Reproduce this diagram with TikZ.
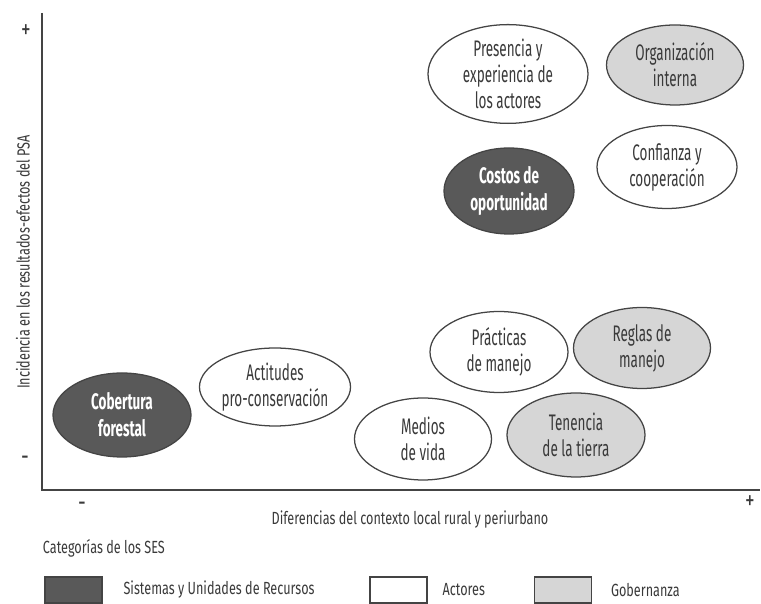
\documentclass[tikz,border=0pt]{standalone}
\usepackage{fontspec}
\setmainfont[FakeStretch=0.72]{Fira Sans}
\newfontfamily\sesfont[FakeStretch=0.6]{Fira Sans}
\usepackage{tikz}
\usetikzlibrary{shapes.geometric,positioning}
\definecolor{linegray}{HTML}{444444}
\definecolor{textgray}{HTML}{3A3A3A}
\definecolor{recfill}{HTML}{595959}
\definecolor{gobfill}{HTML}{D6D6D6}
\tikzset{ses/.style={ellipse, draw=linegray, line width=0.9pt, inner sep=0pt,
    align=center, font=\sesfont\fontsize{16}{18.5}\selectfont, text=textgray},
  rec/.style={ses, fill=recfill, text=white, font=\sesfont\fontsize{16}{19}\selectfont\bfseries},
  act/.style={ses, fill=white},
  gob/.style={ses, fill=gobfill},
  legbox/.style={draw=linegray, line width=0.9pt, minimum width=1.425cm, minimum height=0.65cm, inner sep=0pt},
  axlabel/.style={text=textgray, font=\fontsize{12.5}{15}\selectfont},
  sign/.style={text=textgray, font=\fontsize{19}{19}\selectfont}}

\begin{document}
\begin{tikzpicture}
    \useasboundingbox (0, 0) rectangle (19.025, 15.1);
    % axes
    \coordinate (O) at (1.05, 2.85);
    \coordinate (ytop) at (1.05, 14.775);
    \coordinate (xend) at (19.0, 2.85);
    \draw[linegray, line width=1.1pt] (ytop) -- (O) -- (xend);
    \node[sign] (yplus) at (0.65, 14.3) {+};
    \node[sign] (yminus) at (0.625, 3.575) {-};
    \node[sign] (xminus) at (2.05, 2.425) {-};
    \node[sign] (xplus) at (18.75, 2.525) {+};
    \node[axlabel, rotate=90] (ylab) at (0.575, 8.55) {Incidencia en los resultados-efectos del PSA};
    \node[axlabel] (xlab) at (10.25, 2.1) {Diferencias del contexto local rural y periurbano};
    % elementos del SES
    \node[act, minimum width=4.0cm, minimum height=2.45cm] (pres) at (12.7, 13.25) {Presencia y\\experiencia de\\los actores};
    \node[gob, minimum width=3.425cm, minimum height=2.0cm] (org) at (16.875, 13.475) {Organización\\interna};
    \node[act, minimum width=3.5cm, minimum height=2.075cm] (conf) at (16.675, 10.925) {Confianza y\\cooperación};
    \node[rec, minimum width=3.25cm, minimum height=2.15cm] (costos) at (12.725, 10.325) {Costos de\\oportunidad};
    \node[act, minimum width=3.45cm, minimum height=2.025cm] (prac) at (12.475, 6.3) {Prácticas\\de manejo};
    \node[gob, minimum width=3.425cm, minimum height=2.025cm] (reglas) at (16.05, 6.4) {Reglas de\\manejo};
    \node[act, minimum width=3.425cm, minimum height=2.05cm] (medios) at (10.575, 4.125) {Medios\\de vida};
    \node[gob, minimum width=3.45cm, minimum height=2.1cm] (tenencia) at (14.4, 4.225) {Tenencia\\de la tierra};
    \node[act, minimum width=3.4cm, minimum height=1.95cm] (actit) at (6.875, 5.425) {Actitudes\\pro-conservación};
    \node[rec, minimum width=3.45cm, minimum height=2.1cm] (cob) at (3.05, 4.725) {Cobertura\\forestal};
    % leyenda
    \node[axlabel, anchor=west] (cat) at (0.95, 1.4) {Categorías de los SES};
    \node[legbox, fill=recfill] (legR) at (1.8375, 0.35) {};
    \node[legbox, fill=white] (legA) at (9.9625, 0.35) {};
    \node[legbox, fill=gobfill] (legG) at (14.075, 0.35) {};
    \node[axlabel, right=0.4cm of legR] (txtR) {Sistemas y Unidades de Recursos};
    \node[axlabel, right=0.25cm of legA] (txtA) {Actores};
    \node[axlabel, right=0.35cm of legG] (txtG) {Gobernanza};
\end{tikzpicture}
\end{document}
